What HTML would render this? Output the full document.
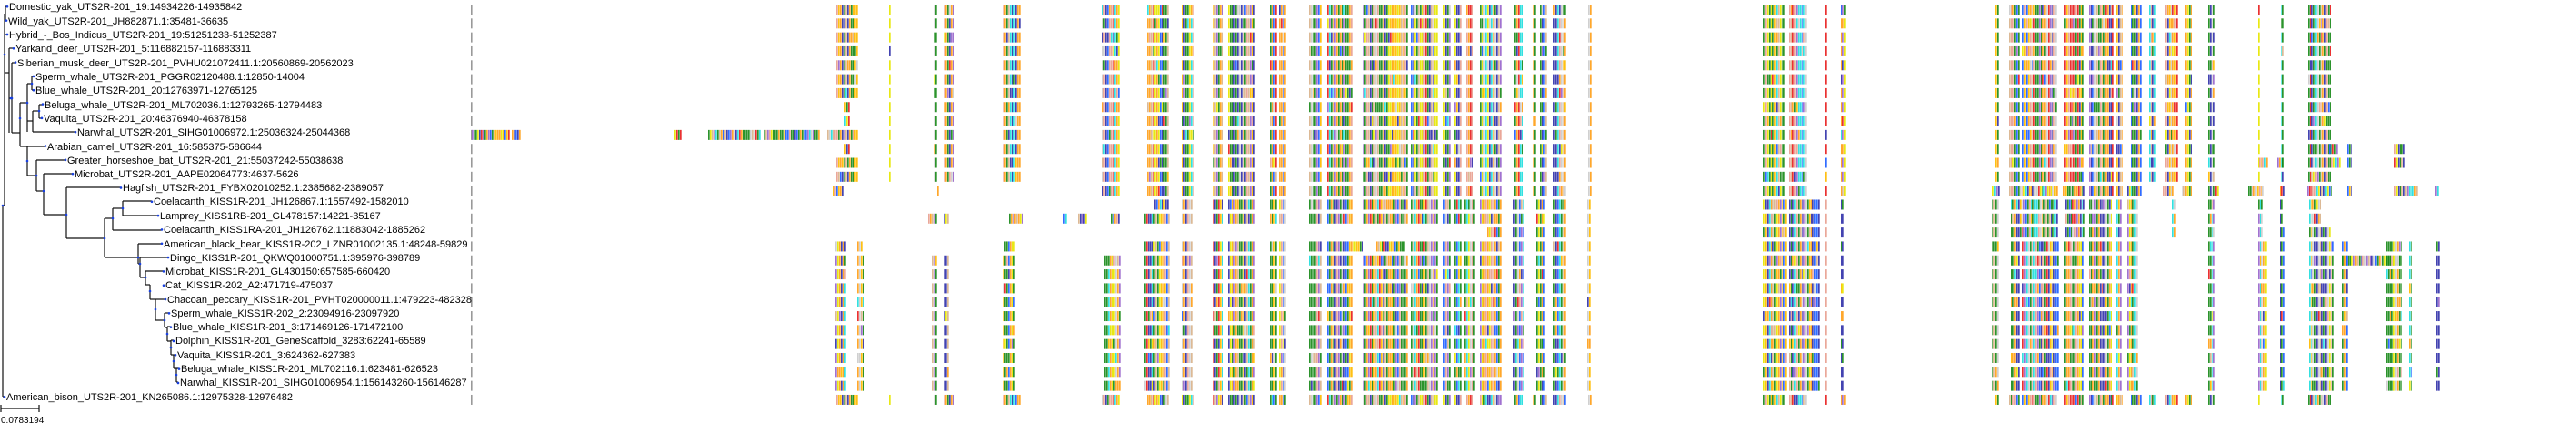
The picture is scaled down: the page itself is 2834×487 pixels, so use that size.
<!DOCTYPE html>
<html><head><meta charset="utf-8"><style>
html,body{margin:0;padding:0;background:#fff;}
svg{display:block;}
text{font-family:"Liberation Sans",Arial,sans-serif;font-size:11px;fill:#000;}
</style></head><body>
<svg id="s" width="2834" height="487" xmlns="http://www.w3.org/2000/svg">
<g id="al"></g>
<g id="tree" stroke="#111" stroke-width="1.2" fill="none"></g>
<g id="dots" fill="#1840e0"></g>
<g id="lab">
<text x="10" y="11">Domestic_yak_UTS2R-201_19:14934226-14935842</text>
<text x="9" y="27">Wild_yak_UTS2R-201_JH882871.1:35481-36635</text>
<text x="10" y="42">Hybrid_-_Bos_Indicus_UTS2R-201_19:51251233-51252387</text>
<text x="17" y="57">Yarkand_deer_UTS2R-201_5:116882157-116883311</text>
<text x="19" y="73">Siberian_musk_deer_UTS2R-201_PVHU021072411.1:20560869-20562023</text>
<text x="39" y="88">Sperm_whale_UTS2R-201_PGGR02120488.1:12850-14004</text>
<text x="39" y="103">Blue_whale_UTS2R-201_20:12763971-12765125</text>
<text x="49" y="119">Beluga_whale_UTS2R-201_ML702036.1:12793265-12794483</text>
<text x="48" y="134">Vaquita_UTS2R-201_20:46376940-46378158</text>
<text x="85" y="149">Narwhal_UTS2R-201_SIHG01006972.1:25036324-25044368</text>
<text x="52" y="165">Arabian_camel_UTS2R-201_16:585375-586644</text>
<text x="74" y="180">Greater_horseshoe_bat_UTS2R-201_21:55037242-55038638</text>
<text x="82" y="195">Microbat_UTS2R-201_AAPE02064773:4637-5626</text>
<text x="135" y="210">Hagfish_UTS2R-201_FYBX02010252.1:2385682-2389057</text>
<text x="169" y="225">Coelacanth_KISS1R-201_JH126867.1:1557492-1582010</text>
<text x="176" y="241">Lamprey_KISS1RB-201_GL478157:14221-35167</text>
<text x="180" y="256">Coelacanth_KISS1RA-201_JH126762.1:1883042-1885262</text>
<text x="180" y="272">American_black_bear_KISS1R-202_LZNR01002135.1:48248-59829</text>
<text x="187" y="287">Dingo_KISS1R-201_QKWQ01000751.1:395976-398789</text>
<text x="182" y="302">Microbat_KISS1R-201_GL430150:657585-660420</text>
<text x="182" y="317">Cat_KISS1R-202_A2:471719-475037</text>
<text x="184" y="333">Chacoan_peccary_KISS1R-201_PVHT020000011.1:479223-482328</text>
<text x="188" y="348">Sperm_whale_KISS1R-202_2:23094916-23097920</text>
<text x="190" y="363">Blue_whale_KISS1R-201_3:171469126-171472100</text>
<text x="193" y="378">Dolphin_KISS1R-201_GeneScaffold_3283:62241-65589</text>
<text x="195" y="394">Vaquita_KISS1R-201_3:624362-627383</text>
<text x="199" y="409">Beluga_whale_KISS1R-201_ML702116.1:623481-626523</text>
<text x="198" y="424">Narwhal_KISS1R-201_SIHG01006954.1:156143260-156146287</text>
<text x="7" y="440">American_bison_UTS2R-201_KN265086.1:12975328-12976482</text>
<text x="1" y="465" style="font-size:10px">0.0783194</text>
</g>
</svg>
<script>
(function(){
var NS="http://www.w3.org/2000/svg";
function el(p,n,a){var e=document.createElementNS(NS,n);for(var k in a)e.setAttribute(k,a[k]);p.appendChild(e);return e;}
var T=document.getElementById('tree'),D=document.getElementById('dots'),A=document.getElementById('al');
var L=[
['v',3,226,436],['h',436,3,5],['h',226,3,5],
['v',5,15,226],['h',15,5,6],['v',6,7,23],['h',7,6,8],['h',23,6,7],['h',38,5,8],
['h',80,5,10],['v',10,53,146],['h',53,10,15],['h',108,10,13],
['v',13,69,146],['h',69,13,17],['h',146,13,22],
['v',22,113,161],['h',113,22,30],['v',30,92,145],['h',92,30,35],
['v',35,84,99],['h',84,35,37],['h',99,35,37],
['h',133,30,36],['v',36,122,145],['h',122,36,43],['v',43,115,130],['h',115,43,47],['h',130,43,46],['h',145,36,83],
['h',161,22,30],['v',30,161,193],['h',161,30,50],['h',193,30,40],
['v',40,176,210],['h',176,40,72],['h',210,40,48],
['v',48,191,236],['h',191,48,80],['h',236,48,73],
['v',73,206,262],['h',206,73,133],['h',262,73,115],
['v',115,240,283],['h',240,115,124],['v',124,229,253],['h',229,124,135],['h',253,124,178],
['v',135,221,237],['h',221,135,167],['h',237,135,174],
['h',283,115,152],['v',152,268,290],['h',268,152,178],['h',290,152,154],
['v',154,283,305],['h',283,154,185],['h',305,154,160],
['v',160,298,313],['h',298,160,180],['h',313,160,165],
['v',165,313,329],['h',329,165,171],
['v',171,329,352],['h',329,171,182],['h',352,171,181],
['v',181,344,360],['h',344,181,186],['h',360,181,184],
['v',184,359,375],['h',359,184,188],['h',375,184,188],
['v',188,374,390],['h',374,188,191],['h',390,188,191],
['v',191,390,405],['h',390,191,193],['h',405,191,194],
['v',194,405,420],['h',405,194,197],['h',420,194,196],
['h',449,1,43],['v',1,445,453],['v',43,445,453]
];
L.forEach(function(l){
 if(l[0]=='v')el(T,'line',{x1:l[1],x2:l[1],y1:l[2],y2:l[3]});
 else el(T,'line',{x1:l[2],x2:l[3],y1:l[1],y2:l[1]});
});
var dx=[8,7,8,15,17,37,37,47,46,83,50,72,80,133,167,174,178,178,185,180,180,182,186,188,191,193,197,196,5];
dx.forEach(function(x,i){el(D,'circle',{cx:x,cy:7.3+15.32*i,r:1.3});});
[[5,60],[12,108],[13,108],[22,130],[30,113],[35,92],[43,122],[30,177],[40,193],[48,210],[73,236],[115,262],[124,240],[135,229],[152,283],[154,290],[160,305],[165,320],[171,340],[181,352],[184,367],[188,382],[191,397],[194,412],[3,226]].forEach(function(p){el(D,'circle',{cx:p[0],cy:p[1],r:1.3});});

var pal=['#1a8a1a','#1a8a1a','#1a8a1a','#ff9f1a','#ff9f1a','#1f5fff','#3333aa','#3333aa','#e82020','#22dddd','#e6e600','#e8a090','#9966cc','#cccccc','#d9b38c','#ffbb00'];
function h(a,b){var x=(a*374761393+b*668265263)|0;x=(x^(x>>>13))*1274126177|0;return ((x^(x>>>16))>>>0)/4294967296;}
var HA=[[920,944],[978,980],[1027,1031],[1038,1049],[1103,1123]];
var MA=[[1212,1232],[1262,1286],[1300,1314],[1334,1345],[1351,1381],[1397,1404],[1407,1415],[1440,1453],[1460,1488],[1499,1548],[1552,1581],[1588,1595],[1600,1608],[1613,1621],[1628,1651],[1666,1676],[1686,1690],[1694,1701],[1709,1722],[1747,1750],[1940,1964],[1968,1987],[2008,2010],[2025,2030]];
var TA=[[2195,2199],[2210,2222],[2225,2263],[2271,2293],[2298,2325],[2328,2335],[2344,2355],[2364,2372],[2382,2396],[2404,2411],[2429,2437],[2484,2486],[2509,2513],[2539,2565]];
var HB=[[919,931],[943,951],[1025,1031],[1038,1043],[1103,1117]];
var MB=[[1215,1232],[1259,1286],[1300,1312],[1334,1345],[1351,1381],[1397,1404],[1407,1415],[1440,1453],[1460,1488],[1499,1548],[1552,1581],[1588,1595],[1600,1608],[1611,1622],[1628,1651],[1665,1676],[1690,1700],[1709,1722],[1746,1750],[1940,1965],[1968,2002],[2008,2010],[2025,2028]];
var TB=[[2191,2199],[2212,2222],[2225,2264],[2271,2293],[2298,2324],[2328,2334],[2340,2351],[2429,2437],[2484,2494],[2508,2513],[2540,2568],[2577,2583],[2625,2642],[2650,2654],[2680,2683]];
var rows={};
for(var i=0;i<=12;i++)rows[i]=HA.concat(MA,TA);rows[28]=HA.concat(MA,TA);
[7,8,10].forEach(function(i){rows[i]=[[929,935],[978,979],[1027,1031],[1038,1049],[1103,1123]].concat(MA,TA);});
rows[9]=[[519,560],[563,572],[742,749],[779,837],[840,901],[910,944],[978,980],[1027,1031],[1038,1049],[1103,1123]].concat(MA,TA);
rows[10]=rows[10].concat([[2562,2571],[2582,2587],[2634,2645]]);
rows[11]=rows[11].concat([[2485,2494],[2505,2513],[2565,2575],[2582,2587],[2634,2645]]);
rows[13]=[[916,927],[1031,1033]].concat(MA).concat([[2192,2199],[2210,2264],[2270,2293],[2298,2325],[2328,2335],[2340,2356],[2380,2392],[2400,2411],[2429,2440],[2473,2490],[2508,2513],[2538,2565],[2582,2587],[2634,2660],[2679,2683]]);
var T2=[[2191,2199],[2212,2263],[2272,2293],[2298,2324],[2328,2334],[2340,2352],[2390,2393],[2429,2437],[2484,2490],[2508,2512],[2540,2553]];
rows[14]=[[1270,1286]].concat(MB.slice(2),T2);
rows[15]=[[1021,1030],[1038,1043],[1110,1125],[1170,1173],[1186,1195],[1222,1232],[1259,1286]].concat(MB.slice(2),T2);
rows[16]=[[1636,1651],[1665,1676],[1690,1700],[1709,1722],[1746,1750],[1940,1965],[1968,2002],[2008,2010],[2025,2028],[2191,2199],[2212,2263],[2272,2293],[2298,2324],[2328,2334],[2340,2351],[2390,2393],[2429,2437],[2484,2490],[2508,2513],[2540,2563]];
for(var i=17;i<=27;i++)rows[i]=HB.concat(MB,TB);
rows[17]=[[919,931],[943,949],[1105,1117]].concat(MB.slice(1,8)).concat([[1460,1500],[1514,1545]]).concat(MB.slice(10),TB);
rows[18]=rows[18].concat([[2577,2640]]);
for(var r in rows){
 var y=5+15.32*r, grp=(r<=13||r==28)?0:1;
 el(A,'rect',{x:518,y:y,width:1.6,height:11,fill:'#999'});
 rows[r].forEach(function(s){
  for(var x=s[0];x<s[1];x+=2){
   var c=Math.floor(h(x,grp*7+3)*pal.length);
   if(h(x*3,r*11+5)<0.15)c=Math.floor(h(x,r+99)*pal.length);
   el(A,'rect',{x:x,y:y,width:1.7,height:11,fill:pal[c],opacity:0.92});
  }
 });
}
})();
</script>
</body></html>
